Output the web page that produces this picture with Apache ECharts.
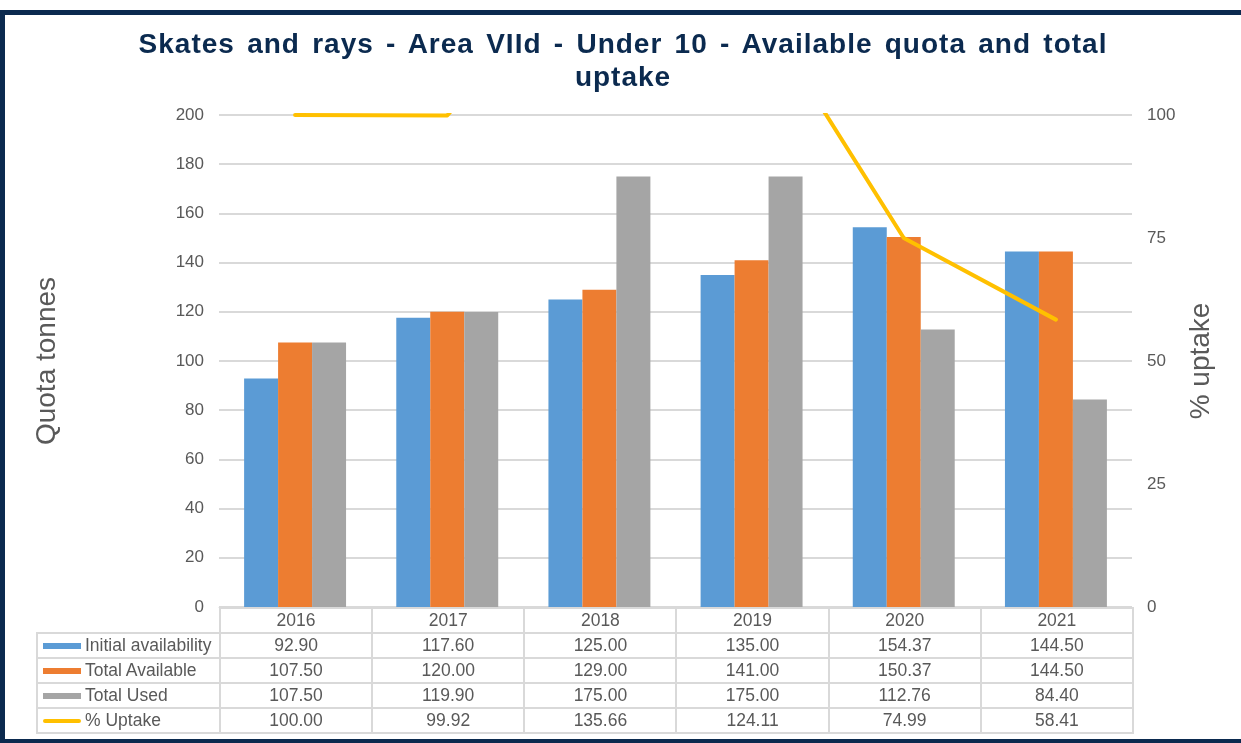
<!DOCTYPE html>
<html>
<head>
<meta charset="utf-8">
<script src="https://cdn.jsdelivr.net/npm/echarts@6/dist/echarts.min.js"></script>
<style>
  html, body { margin: 0; padding: 0; background: #fff; }
  #frame {
    position: absolute; left: 0; top: 10px; width: 1241px; height: 733px;
    box-sizing: border-box; border-top: 5px solid #0b2a4f; border-left: 5px solid #0b2a4f;
    border-bottom: 4px solid #0b2a4f;
  }
  #chart { position: absolute; left: 0; top: 0; width: 1241px; height: 743px; }
  #title {
    position: absolute; left: 123px; width: 1000px; top: 27px; text-align: center;
    font-family: "Liberation Sans", Arial, sans-serif; font-weight: bold; font-size: 28px;
    line-height: 33px; letter-spacing: 1px; word-spacing: 3.5px; color: #0b2a4f;
  }
  #table {
    position: absolute; left: 36px; top: 607px; border-collapse: collapse; table-layout: fixed;
    font-family: "Liberation Sans", Arial, sans-serif; font-size: 17.5px; color: #595959;
  }
  #table td { border: 2px solid #d9d9d9; height: 23px; padding: 0; text-align: center; white-space: nowrap; }
  #table td.blank { border: none; }
  #table td.lab { text-align: left; padding-left: 5px; }
  .key { display: inline-block; width: 38px; height: 6px; margin-right: 4px; vertical-align: middle; }
  .keyline { height: 4px; border-radius: 2px; }
</style>
</head>
<body>
<div id="frame"></div>
<div id="chart"></div>
<div id="title">Skates and rays - Area VIId - Under 10 - Available quota and total<br>uptake</div>
<table id="table"></table>
<script>
const years = ['2016', '2017', '2018', '2019', '2020', '2021'];
const initialAvail = [92.90, 117.60, 125.00, 135.00, 154.37, 144.50];
const totalAvail = [107.50, 120.00, 129.00, 141.00, 150.37, 144.50];
const totalUsed = [107.50, 119.90, 175.00, 175.00, 112.76, 84.40];
const uptake = [100.00, 99.92, 135.66, 124.11, 74.99, 58.41];

const names = ['Initial availability', 'Total Available', 'Total Used', '% Uptake'];
const colors = ['#5b9bd5', '#ed7d31', '#a5a5a5', '#ffc000'];

const myChart = echarts.init(document.getElementById('chart'));

const option = {
  animation: false,
  grid: { left: 219, right: 109, top: 115, bottom: 136 },
  xAxis: {
    type: 'category',
    data: years,
    axisLine: { lineStyle: { color: '#d9d9d9' } },
    axisTick: { show: false },
    axisLabel: { show: false }
  },
  yAxis: [
    {
      type: 'value',
      min: 0, max: 200, interval: 20,
      name: 'Quota tonnes',
      nameLocation: 'middle',
      nameRotate: 90,
      nameGap: 158,
      nameTextStyle: { fontFamily: 'Liberation Sans', fontSize: 28, color: '#595959' },
      axisLine: { show: false },
      axisTick: { show: false },
      axisLabel: { margin: 15, fontFamily: 'Liberation Sans', fontSize: 17, color: '#595959' },
      splitLine: { lineStyle: { color: '#d9d9d9', width: 2 } }
    },
    {
      type: 'value',
      min: 0, max: 100, interval: 25,
      name: '% uptake',
      nameLocation: 'middle',
      nameRotate: 90,
      nameGap: 55,
      nameTextStyle: { fontFamily: 'Liberation Sans', fontSize: 28, color: '#595959' },
      axisLine: { show: false },
      axisTick: { show: false },
      axisLabel: { margin: 15, fontFamily: 'Liberation Sans', fontSize: 17, color: '#595959' },
      splitLine: { show: false }
    }
  ],
  series: [
    { name: names[0], type: 'bar', data: initialAvail, itemStyle: { color: colors[0] }, barGap: '0%', barCategoryGap: '33%' },
    { name: names[1], type: 'bar', data: totalAvail, itemStyle: { color: colors[1] } },
    { name: names[2], type: 'bar', data: totalUsed, itemStyle: { color: colors[2] } },
    {
      name: names[3], type: 'line', yAxisIndex: 1, data: uptake,
      showSymbol: false, clip: true,
      lineStyle: { color: colors[3], width: 4, cap: 'round', join: 'round' },
      itemStyle: { color: colors[3] }
    }
  ]
};
myChart.setOption(option);

// data table under the plot, built from the same arrays
const table = document.getElementById('table');
const colW = (1241 - 219 - 109) / years.length;
let html = '<colgroup><col style="width:183px">' + years.map(() => '<col style="width:' + colW + 'px">').join('') + '</colgroup>';
html += '<tr><td class="blank"></td>' + years.map(y => '<td>' + y + '</td>').join('') + '</tr>';
const rows = [initialAvail, totalAvail, totalUsed, uptake];
rows.forEach((r, i) => {
  const key = i === 3
    ? '<span class="key keyline" style="background:' + colors[i] + '"></span>'
    : '<span class="key" style="background:' + colors[i] + '"></span>';
  html += '<tr><td class="lab">' + key + names[i] + '</td>' + r.map(v => '<td>' + v.toFixed(2) + '</td>').join('') + '</tr>';
});
table.innerHTML = html;
</script>
</body>
</html>
